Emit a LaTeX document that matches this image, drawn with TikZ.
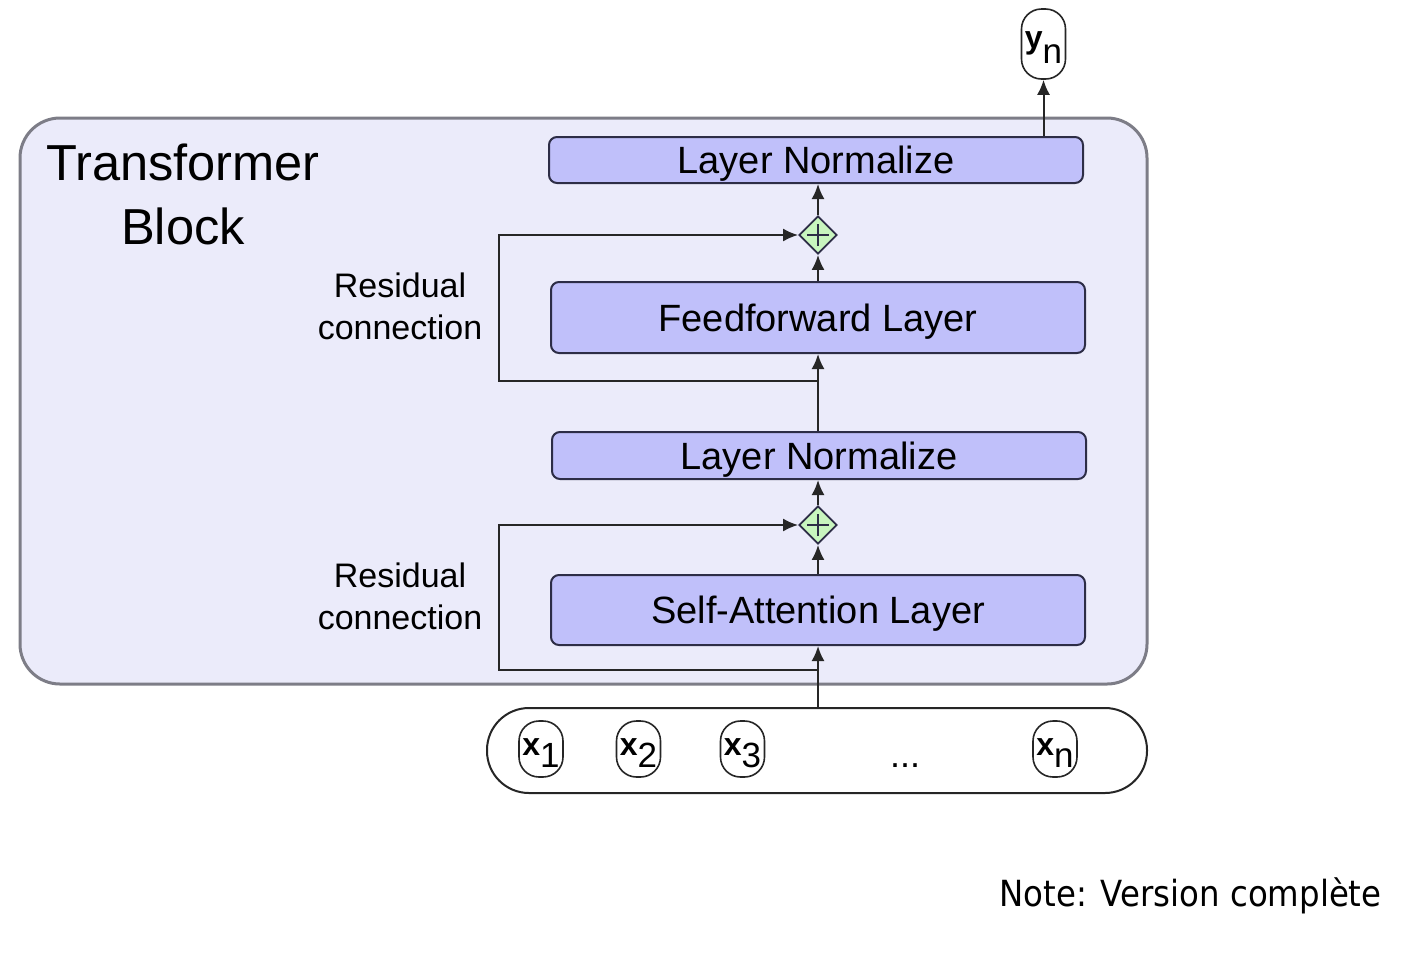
\documentclass[tikz,border=0pt]{standalone}
\usepackage{fontspec}
\setmainfont{Liberation Sans}
\newfontfamily\notefont[FakeStretch=0.9]{DejaVu Sans}
\usetikzlibrary{shapes.geometric,arrows.meta}
\definecolor{blockfill}{RGB}{235,235,250}
\definecolor{blockdraw}{RGB}{125,125,135}
\definecolor{layerfill}{RGB}{192,192,250}
\definecolor{layerdraw}{RGB}{45,45,70}
\definecolor{addfill}{RGB}{200,245,190}
\newcommand{\tokx}[3]{{\fontsize{16}{18}\selectfont\bfseries #1}\raisebox{#3}{\fontsize{17.5}{20}\selectfont #2}}
\begin{document}
\begin{tikzpicture}[x=0.5pt,y=-0.5pt,
  blockbox/.style={draw=blockdraw, fill=blockfill, line width=1.5pt, rounded corners=20pt, inner sep=0pt},
  layerbox/.style={draw=layerdraw, fill=layerfill, line width=1pt, rounded corners=4pt,
    minimum width=267pt, inner sep=0pt, font=\fontsize{19}{22}\selectfont, text height=13.6pt, text depth=0pt},
  addnode/.style={diamond, draw=layerdraw, fill=addfill, line width=0.9pt, minimum size=19pt, inner sep=0pt,
    path picture={
      \draw[line width=1.2pt] ([xshift=-5.5pt]path picture bounding box.center) -- ([xshift=5.5pt]path picture bounding box.center);
      \draw[line width=1.2pt] ([yshift=-5.5pt]path picture bounding box.center) -- ([yshift=5.5pt]path picture bounding box.center);}},
  conn/.style={draw=black!85, line width=1pt},
  arr/.style={conn, -{Latex[length=7.5pt,width=6.5pt]}},
  tok/.style={draw=black!85, fill=white, line width=0.8pt, rounded corners=10pt,
    minimum width=22pt, minimum height=28pt, inner sep=0pt, text height=12pt, text depth=6pt},
  inbox/.style={draw=black!85, line width=1pt, rounded corners=21pt, inner sep=0pt},
  title/.style={anchor=base, font=\fontsize{25.3}{30}\selectfont},
  reslabel/.style={anchor=base, font=\fontsize{17}{20}\selectfont},
]
\fill[white] (0,0) rectangle (1412,954);
\useasboundingbox (0,0) rectangle (1412,954);

% transformer block
\node[blockbox, minimum width=563.5pt, minimum height=283pt] (blk) at (583.5,401) {};
\node[title] (t1) at (183,180) {Transformer};
\node[title] (t2) at (183,244) {Block};

\node[layerbox, minimum height=23pt] (ln1) at (816,160) {Layer Normalize};
\node[addnode] (p1) at (818,235) {};
\node[layerbox, minimum height=35.5pt] (ff) at (818,317.5) {Feedforward Layer};
\node[layerbox, minimum height=23.5pt] (ln2) at (819,455.5) {Layer Normalize};
\node[addnode] (p2) at (818,525) {};
\node[layerbox, minimum height=35pt] (sa) at (818,610) {Self-Attention Layer};

\node[reslabel] (rl1a) at (400,297) {Residual};
\node[reslabel] (rl1b) at (400,339) {connection};
\node[reslabel] (rl2a) at (400,587) {Residual};
\node[reslabel] (rl2b) at (400,629) {connection};

% inputs
\node[inbox, minimum width=330pt, minimum height=42.5pt] (inp) at (817,750.5) {};
\node[tok] (x1) at (541,749) {\tokx{x}{1}{-6pt}};
\node[tok] (x2) at (638.5,749) {\tokx{x}{2}{-6pt}};
\node[tok] (x3) at (742.5,749) {\tokx{x}{3}{-6pt}};
\node[anchor=base, font=\fontsize{18}{20}\selectfont] (dots) at (905,767) {...};
\node[tok] (xn) at (1055,749) {\tokx{x}{n}{-6pt}};

% output
\node[tok, minimum height=35pt, text height=11.5pt, text depth=7.5pt] (yn) at (1043.5,44) {\tokx{y}{n}{-7.5pt}};

% connectors
\draw[arr] (sa.south |- inp.north) -- (sa.south);
\draw[arr] (sa.north) -- (p2.south);
\draw[arr] (p2.north) -- (p2.north |- ln2.south);
\draw[arr] (ff.south |- ln2.north) -- (ff.south);
\draw[arr] (ff.north) -- (p1.south);
\draw[arr] (p1.north) -- (p1.north |- ln1.south);
\draw[arr] (yn.south |- ln1.north) -- (yn.south);

\coordinate (r1) at (818,381);
\coordinate (r1l) at (499,381);
\draw[arr] (r1) -- (r1l) |- (p1.west);
\coordinate (r2) at (818,670);
\coordinate (r2l) at (499,670);
\draw[arr] (r2) -- (r2l) |- (p2.west);

% note
\node[anchor=base east, font=\notefont\fontsize{18}{20}\selectfont, inner sep=0pt] (note) at (1382,906) {Note: Version complète};
\end{tikzpicture}
\end{document}
